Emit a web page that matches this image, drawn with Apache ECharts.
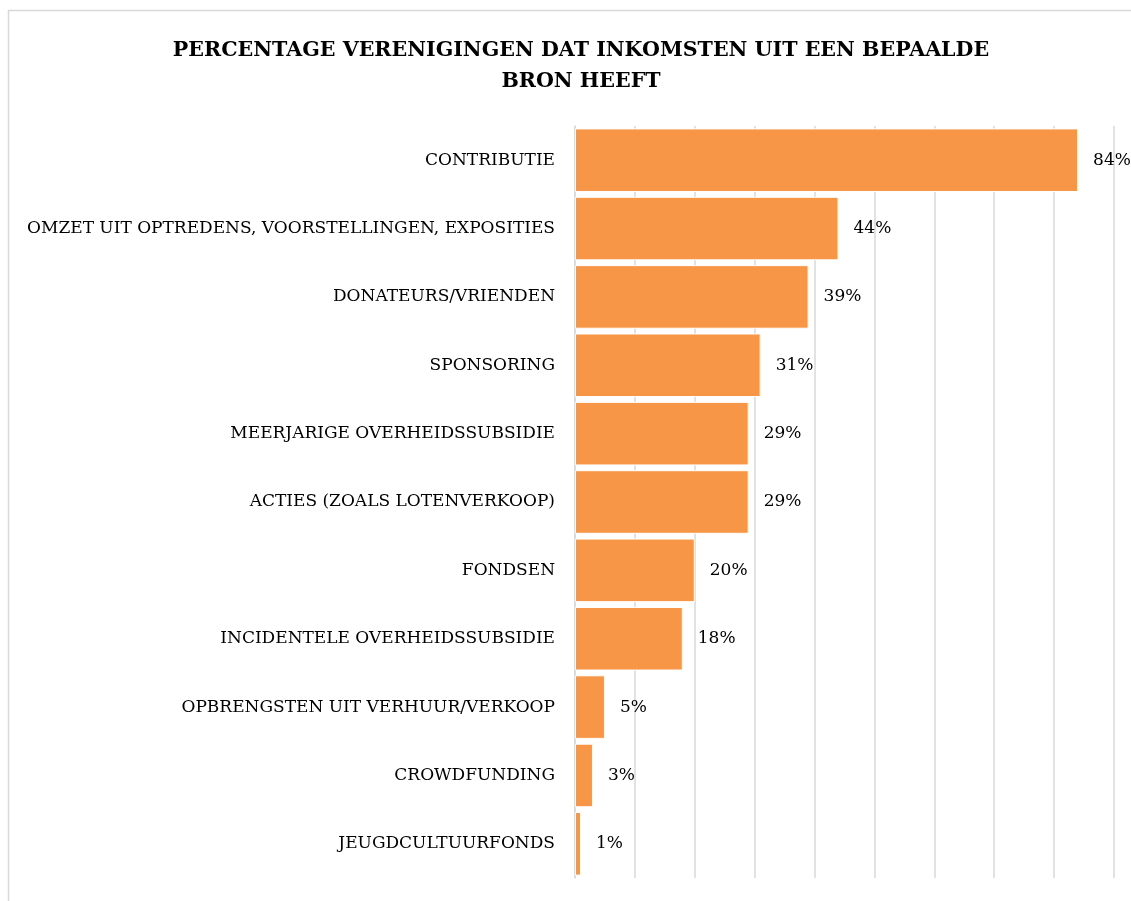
<!DOCTYPE html>
<html>
<head>
<meta charset="utf-8">
<script src="https://cdn.jsdelivr.net/npm/echarts@6/dist/echarts.min.js"></script>
<style>
  html, body { margin: 0; padding: 0; background: #fff; }
  #chart { width: 1131px; height: 901px; }
</style>
</head>
<body>
<div id="chart"></div>
<script>
// categories from top to bottom
const categories = [
  'CONTRIBUTIE',
  'OMZET UIT OPTREDENS, VOORSTELLINGEN, EXPOSITIES',
  'DONATEURS/VRIENDEN',
  'SPONSORING',
  'MEERJARIGE OVERHEIDSSUBSIDIE',
  'ACTIES (ZOALS LOTENVERKOOP)',
  'FONDSEN',
  'INCIDENTELE OVERHEIDSSUBSIDIE',
  'OPBRENGSTEN UIT VERHUUR/VERKOOP',
  'CROWDFUNDING',
  'JEUGDCULTUURFONDS'
];
const percentages = [84, 44, 39, 31, 29, 29, 20, 18, 5, 3, 1];
const xMax = 90;
const xStep = 10;

const font = '"DejaVu Serif", "Liberation Serif", serif';

const myChart = echarts.init(document.getElementById('chart'));
const option = {
  animation: false,
  title: {
    text: 'PERCENTAGE VERENIGINGEN DAT INKOMSTEN UIT EEN BEPAALDE\nBRON HEEFT',
    left: 576,
    textAlign: 'center',
    top: 30,
    textStyle: {
      fontFamily: font,
      fontWeight: 'bold',
      fontSize: 20.6,
      lineHeight: 31,
      color: '#000'
    }
  },
  graphic: [
    {
      type: 'rect',
      shape: { x: 8.5, y: 10.5, width: 1200, height: 1000 },
      style: { fill: 'none', stroke: '#d9d9d9', lineWidth: 1.5 },
      silent: true
    }
  ],
  grid: {
    left: 575,
    right: 17,
    top: 126,
    bottom: 23,
    containLabel: false
  },
  xAxis: {
    type: 'value',
    min: 0,
    max: xMax,
    interval: xStep,
    axisLabel: { show: false },
    axisLine: { show: false },
    axisTick: { show: false },
    splitLine: { lineStyle: { color: '#d9d9d9', width: 1.5 } }
  },
  yAxis: {
    type: 'category',
    inverse: true,
    data: categories,
    axisLine: { lineStyle: { color: '#d9d9d9', width: 1.5 } },
    axisTick: { show: false },
    axisLabel: {
      margin: 20,
      fontFamily: font,
      fontSize: 17,
      color: '#000'
    }
  },
  series: [
    {
      type: 'bar',
      data: percentages,
      barCategoryGap: '7%',
      itemStyle: {
        color: '#F79646',
        borderColor: '#fff',
        borderWidth: 1
      },
      label: {
        show: true,
        position: 'right',
        distance: 15,
        formatter: '{c}%',
        fontFamily: font,
        fontSize: 17,
        color: '#000'
      }
    }
  ]
};
myChart.setOption(option);
</script>
</body>
</html>
